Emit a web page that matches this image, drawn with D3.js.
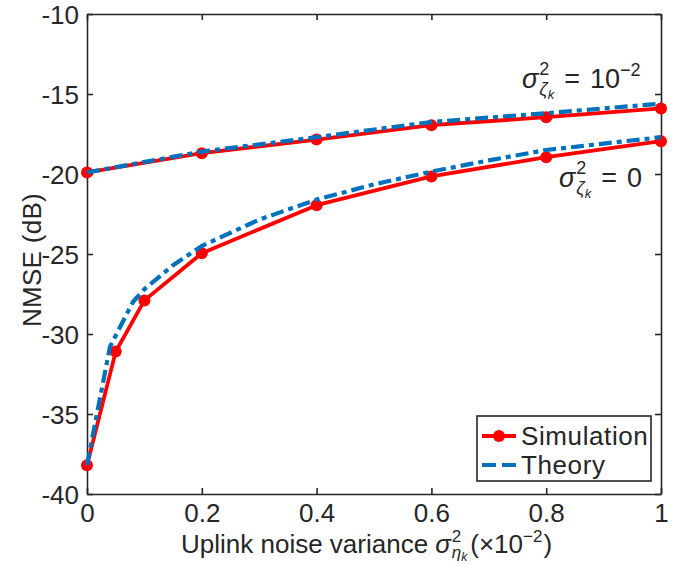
<!DOCTYPE html>
<html>
<head>
<meta charset="utf-8">
<script src="https://cdn.jsdelivr.net/npm/d3@7"></script>
<style>
  html, body { margin: 0; padding: 0; background: #fff; }
  svg { display: block; }
</style>
</head>
<body>
<svg id="chart" width="693" height="565"></svg>
<script>
// ---- data ----
const simXLow = [0, 0.05, 0.1, 0.2, 0.4, 0.6, 0.8, 1.0];
const simYLow = [-38.2, -31.1, -27.9, -24.95, -21.95, -20.15, -18.95, -17.95];
const thXLow = [0, 0.04, 0.08, 0.1, 0.15, 0.2, 0.3, 0.4, 0.5, 0.6, 0.7, 0.8, 0.9, 1.0];
const thYLow = [-38.2, -30.8, -28.0, -27.2, -25.7, -24.5, -22.85, -21.6, -20.65, -19.85, -19.15, -18.5, -18.1, -17.7];
const simXHigh = [0, 0.2, 0.4, 0.6, 0.8, 1.0];
const simYHigh = [-19.9, -18.7, -17.85, -16.95, -16.45, -15.9];
const thXHigh = [0, 0.2, 0.4, 0.6, 0.8, 1.0];
const thYHigh = [-19.9, -18.6, -17.7, -16.75, -16.2, -15.6];
const xTicks = [0, 0.2, 0.4, 0.6, 0.8, 1];
const xTickLabels = ["0", "0.2", "0.4", "0.6", "0.8", "1"];
const yTicks = [-40, -35, -30, -25, -20, -15, -10];
const yTickLabels = ["-40", "-35", "-30", "-25", "-20", "-15", "-10"];
const legendLabels = ["Simulation", "Theory"];

const FONT = "'Liberation Sans', Arial, sans-serif";

const svg = d3.select("#chart");
const L = 87, R = 661, T = 14, B = 494;
const x = d3.scaleLinear().domain([0, 1]).range([L, R]);
const y = d3.scaleLinear().domain([-40, -10]).range([B, T]);
const axisColor = "#262626";
const red = "#ff0000", blue = "#0072bd";

// axes
const gx = svg.append("g").attr("transform", `translate(0,${B})`)
  .call(d3.axisBottom(x).tickValues(xTicks).tickFormat((d, i) => xTickLabels[i]).tickSizeInner(-6).tickSizeOuter(0).tickPadding(10));
const gy = svg.append("g").attr("transform", `translate(${L},0)`)
  .call(d3.axisLeft(y).tickValues(yTicks).tickFormat((d, i) => yTickLabels[i]).tickSizeInner(-6).tickSizeOuter(0).tickPadding(8));
const gt = svg.append("g").attr("transform", `translate(0,${T})`)
  .call(d3.axisTop(x).tickValues(xTicks).tickFormat("").tickSizeInner(-6).tickSizeOuter(0));
const gr = svg.append("g").attr("transform", `translate(${R},0)`)
  .call(d3.axisRight(y).tickValues(yTicks).tickFormat("").tickSizeInner(-6).tickSizeOuter(0));
[gx, gy, gt, gr].forEach(g => {
  g.attr("font-family", null);
  g.select(".domain").attr("stroke", axisColor).attr("stroke-width", 1.6);
  g.selectAll(".tick line").attr("stroke", axisColor).attr("stroke-width", 1.6);
  g.selectAll(".tick text").style("font-family", FONT).attr("font-size", 26).attr("fill", axisColor);
});
gx.selectAll(".tick text").attr("dy", "0.71em");
gy.selectAll(".tick text").attr("dy", "0.35em");

// series
const lineLin = d3.line().x(d => x(d[0])).y(d => y(d[1]));
const plot = svg.append("g");
function drawSim(xs, ys) {
  const pts = xs.map((v, i) => [v, ys[i]]);
  plot.append("path").attr("d", lineLin(pts)).attr("fill", "none").attr("stroke", red).attr("stroke-width", 3.8).attr("stroke-linejoin", "round");
  plot.selectAll(null).data(pts).enter().append("circle")
    .attr("cx", d => x(d[0])).attr("cy", d => y(d[1])).attr("r", 6).attr("fill", red);
}
function drawTh(xs, ys) {
  const pts = xs.map((v, i) => [v, ys[i]]);
  plot.append("path").attr("d", lineLin(pts)).attr("fill", "none")
    .attr("stroke", blue).attr("stroke-width", 4.2).attr("stroke-linejoin", "round").attr("stroke-dasharray", "13,5,5,5");
}
drawSim(simXHigh, simYHigh);
drawSim(simXLow, simYLow);
drawTh(thXHigh, thYHigh);
drawTh(thXLow, thYLow);

// math text helper: single <text> with tspans
function mathText(parent, x0, base, items) {
  const t = parent.append("text").attr("x", x0).attr("y", base)
    .style("font-family", FONT).attr("fill", axisColor);
  let cur = 0, prevW = 0;
  items.forEach(it => {
    const off = it.dy || 0;
    let dx = it.gap || 0;
    if (it.stack) dx -= prevW;
    const s = t.append("tspan").attr("dx", dx).attr("dy", off - cur)
      .attr("font-size", it.size).attr("font-style", it.italic ? "italic" : "normal")
      .text(it.t);
    cur = off;
    prevW = s.node().getComputedTextLength();
  });
  return t;
}
const ann = svg.append("g");
mathText(ann, 522, 88, [
  { t: "σ", size: 27, italic: true },
  { t: "2", size: 18, dy: -13, gap: 1 },
  { t: "ζ", size: 18, italic: true, dy: 7, stack: true },
  { t: "k", size: 13, italic: true, dy: 11 },
  { t: "=", size: 27, gap: 10 },
  { t: "10", size: 27, gap: 10 },
  { t: "−2", size: 18, dy: -12 }
]);
mathText(ann, 559, 187, [
  { t: "σ", size: 27, italic: true },
  { t: "2", size: 18, dy: -13, gap: 1 },
  { t: "ζ", size: 18, italic: true, dy: 7, stack: true },
  { t: "k", size: 13, italic: true, dy: 11 },
  { t: "=", size: 27, gap: 10 },
  { t: "0", size: 27, gap: 10 }
]);

// x label
mathText(svg.append("g"), 181, 553, [
  { t: "Uplink noise variance", size: 26 },
  { t: "σ", size: 26, italic: true, gap: 7 },
  { t: "2", size: 17, dy: -11, gap: 1 },
  { t: "η", size: 17, italic: true, dy: 5, stack: true },
  { t: "k", size: 12, italic: true, dy: 8 },
  { t: "(×10", size: 26, gap: 3 },
  { t: "−2", size: 17, dy: -11 },
  { t: ")", size: 26, gap: 1 }
]);

// y label
svg.append("text").attr("transform", "translate(41,260) rotate(-90)")
  .style("font-family", FONT).attr("fill", axisColor).style("letter-spacing", "0.3px")
  .attr("text-anchor", "middle").attr("font-size", 26).text("NMSE (dB)");

// legend
const lg = svg.append("g");
lg.append("rect").attr("x", 477).attr("y", 416).attr("width", 174).attr("height", 65)
  .attr("fill", "#fff").attr("stroke", axisColor).attr("stroke-width", 1.6);
const ly = [436, 465];
lg.append("line").attr("x1", 482).attr("x2", 516).attr("y1", ly[0]).attr("y2", ly[0]).attr("stroke", red).attr("stroke-width", 3.8);
lg.append("circle").attr("cx", 499).attr("cy", ly[0]).attr("r", 6).attr("fill", red);
lg.append("line").attr("x1", 482).attr("x2", 516).attr("y1", ly[1]).attr("y2", ly[1]).attr("stroke", blue).attr("stroke-width", 4.2).attr("stroke-dasharray", "14,6");
lg.selectAll(null).data(legendLabels).enter().append("text")
  .attr("x", 521).attr("y", (d, i) => ly[i]).attr("dy", "0.35em").attr("font-size", 26)
  .style("font-family", FONT).style("letter-spacing", "0.6px").attr("fill", axisColor).text(d => d);
</script>
</body>
</html>
